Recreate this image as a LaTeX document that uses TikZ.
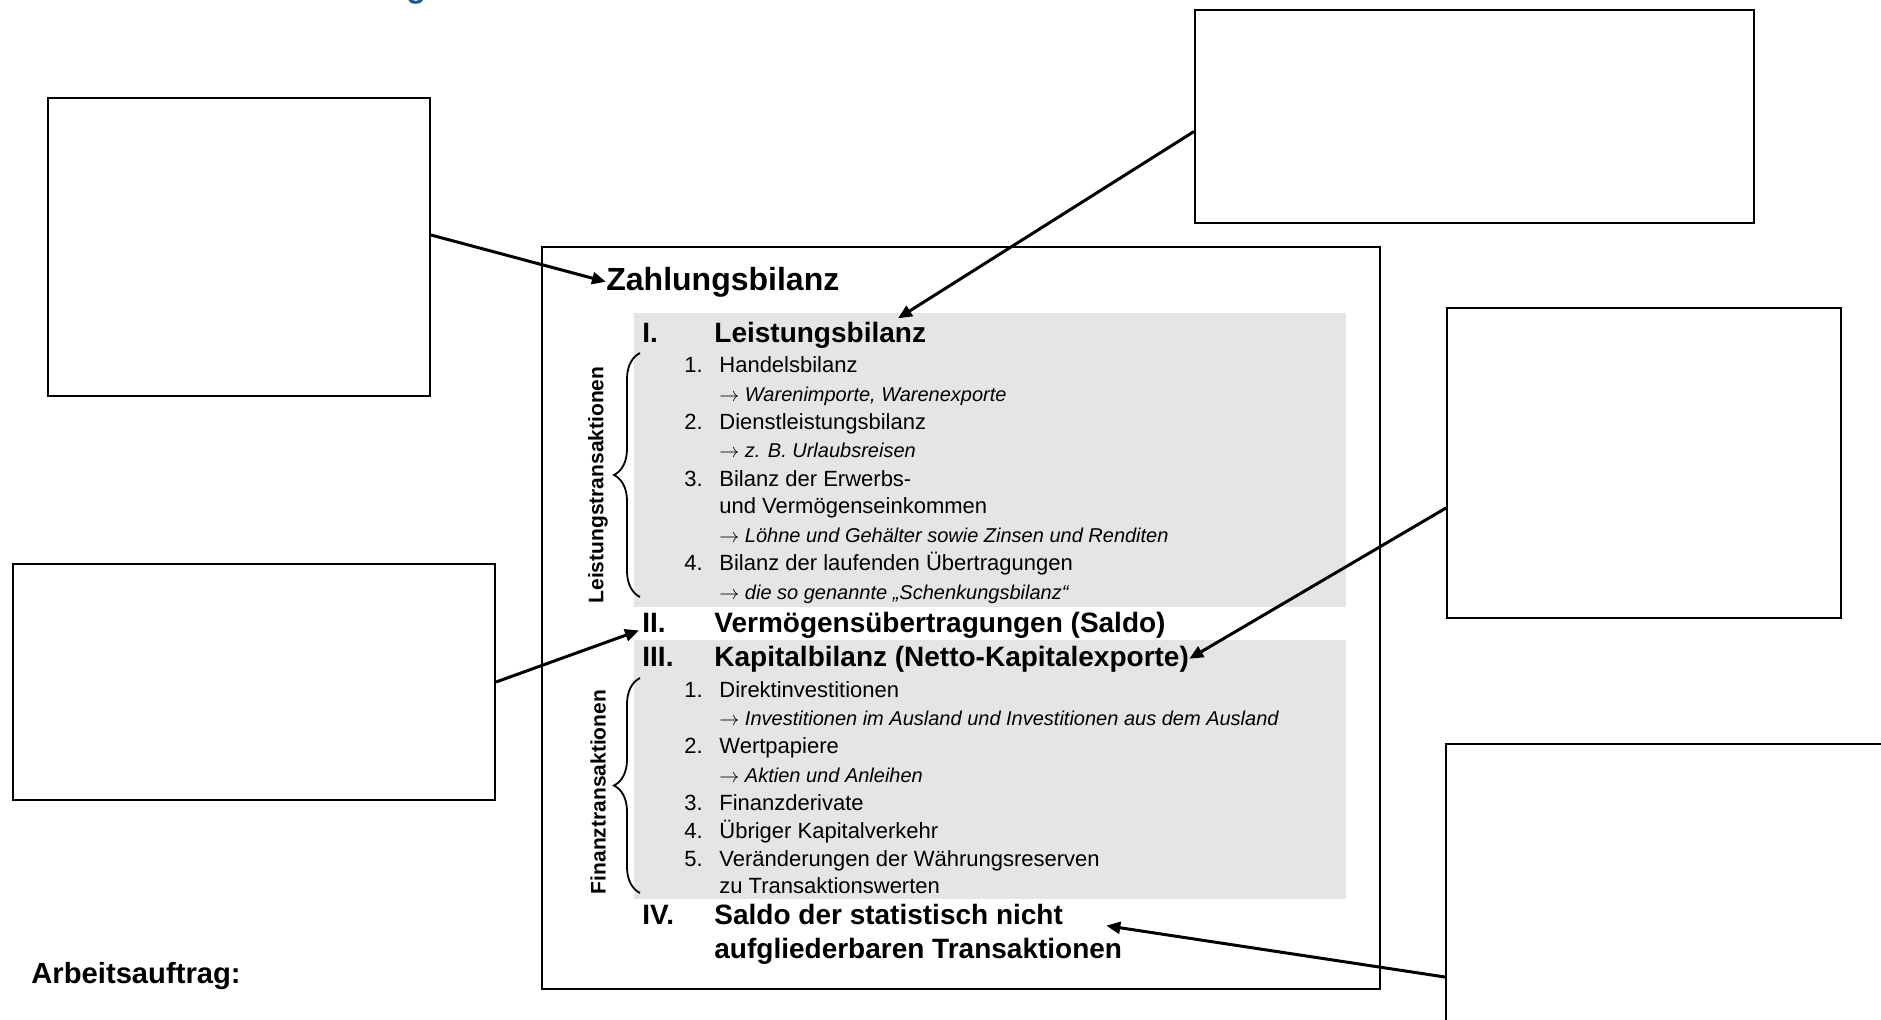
\documentclass[tikz,border=0pt]{standalone}
\usepackage{fontspec}
\setmainfont{Liberation Sans}
\usetikzlibrary{arrows.meta,calc,decorations.pathreplacing}
\definecolor{bandgray}{RGB}{229,229,229}
\definecolor{titleblue}{RGB}{35,85,150}
\tikzset{answer/.style={draw,line width=1pt,inner sep=0pt},
 frame/.style={draw,line width=1.2pt,inner sep=0pt},
 pointer/.style={-{Triangle[length=7pt,width=6pt]},line width=1.5pt},
 curly/.style={decorate,decoration={brace,amplitude=13pt},line width=.9pt},
 title/.style={anchor=base west,inner sep=0pt,font=\fontsize{16}{18}\selectfont\bfseries},
 roman/.style={anchor=base west,inner sep=0pt,font=\fontsize{14}{16}\selectfont\bfseries},
 entry/.style={anchor=base west,inner sep=0pt,font=\fontsize{11}{13}\selectfont},
 hint/.style={anchor=base west,inner sep=0pt,font=\fontsize{10}{12}\selectfont\itshape},
 side/.style={rotate=90,inner sep=0pt,font=\fontsize{10.5}{12}\selectfont\bfseries}}

\begin{document}
\begin{tikzpicture}[x=0.5pt,y=-0.5pt]
\useasboundingbox (0,0) rectangle (1881,1019);
% heading, cut off at the top
\node[title,text=titleblue] (head) at (406,-3) {g};
% scheme of the balance of payments
\node[frame,minimum width=419pt,minimum height=371pt] (bal) at (961,618) {};
\fill[bandgray] (634,313) rectangle (1346,607);
\fill[bandgray] (634,640) rectangle (1346,899);
\node[title] (zb) at (606,290) {Zahlungsbilanz};
\node[roman] (r1) at (642,342) {I.};
\node[roman] (lb) at (714,342) {Leistungsbilanz};
\foreach \ty/\nr/\tx in {372/1./Handelsbilanz,429/2./Dienstleistungsbilanz,
  486/3./Bilanz der Erwerbs-,570/4./Bilanz der laufenden Übertragungen,
  697/1./Direktinvestitionen,753/2./Wertpapiere,810/3./Finanzderivate,
  838/4./Übriger Kapitalverkehr,866/5./Veränderungen der Währungsreserven}{
  \node[entry] (nr\ty) at (684,\ty) {\nr};
  \node[entry] (it\ty) at (719,\ty) {\tx};
}
\node[entry] (it513) at (719,513) {und Vermögenseinkommen};
\node[entry] (it893) at (719,893) {zu Transaktionswerten};
\foreach \ty/\tx in {401/{Warenimporte, Warenexporte},457/{z. B. Urlaubsreisen},
  542/{Löhne und Gehälter sowie Zinsen und Renditen},
  599/{die so genannte „Schenkungsbilanz“},
  725/{Investitionen im Ausland und Investitionen aus dem Ausland},
  782/{Aktien und Anleihen}}{
  \node[hint] (hi\ty) at (719,\ty) {$\rightarrow$ \tx};
}
\node[roman] (r2) at (642,632) {II.};
\node[roman] (vu) at (714,632) {Vermögensübertragungen (Saldo)};
\node[roman] (r3) at (642,666) {III.};
\node[roman] (kb) at (714,666) {Kapitalbilanz (Netto-Kapitalexporte)};
\node[roman] (r4) at (642,924) {IV.};
\node[roman] (sd1) at (714,924) {Saldo der statistisch nicht};
\node[roman] (sd2) at (714,958) {aufgliederbaren Transaktionen};
% braces
\draw[curly] (640,597) -- (640,353);
\draw[curly] (640,893) -- (640,678);
\node[side] (lt) at (598,485) {Leistungstransaktionen};
\node[side] (ft) at (598,792) {Finanztransaktionen};
% empty answer boxes
\node[answer,minimum width=191pt,minimum height=149pt] (boxA) at (239,247) {};
\node[answer,minimum width=241pt,minimum height=118pt] (boxB) at (254,682) {};
\node[answer,minimum width=279.5pt,minimum height=106.5pt] (boxC) at (1474.5,116.5) {};
\node[answer,minimum width=197pt,minimum height=155pt] (boxD) at (1644,463) {};
\node[answer,minimum width=227pt,minimum height=148pt] (boxE) at (1673,892) {};
\draw[pointer] ($(boxA.east)+(0,-12)$) -- (zb.west);
\draw[pointer] ($(boxC.west)+(0,15)$) -- ($(lb.north west)+(184,-3)$);
\draw[pointer] ($(boxD.west)+(0,45)$) -- (kb.east);
\draw[pointer] (boxB.east) -- ($(r2.south west)+(-3,-2)$);
\draw[pointer] ($(boxE.west)+(0,85)$) -- ($(sd1.south east)+(43,1)$);
\node[anchor=base west,inner sep=0pt,font=\fontsize{14.6}{16}\selectfont\bfseries] (task) at (31,983) {Arbeitsauftrag:};
\end{tikzpicture}
\end{document}
